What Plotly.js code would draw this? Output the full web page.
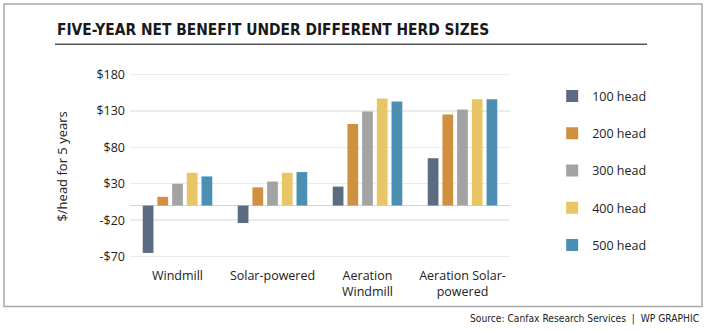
<!DOCTYPE html>
<html>
<head>
<meta charset="utf-8">
<script src="https://cdn.plot.ly/plotly-3.0.1.min.js"></script>
<style>html,body{margin:0;padding:0;background:#fff;}#chart{width:707px;height:331px;}</style>
</head>
<body>
<div id="chart"></div>
<script>
const categories = ["Windmill", "Solar-powered", "Aeration<br>Windmill", "Aeration Solar-<br>powered"];
const seriesNames = ["100 head", "200 head", "300 head", "400 head", "500 head"];
const head100 = [-65, -24, 26, 65];
const head200 = [12, 25, 112, 125];
const head300 = [30, 33, 129, 132];
const head400 = [45, 45, 147, 146];
const head500 = [40, 46, 143, 146];
const yTickVals = [-70, -20, 30, 80, 130, 180];
const yTickText = ["-$70", "-$20", "$30", "$80", "$130", "$180"];
const colors = ["#5a6b82", "#d18f40", "#a3a3a3", "#e8c565", "#4b90b3"];

const allSeries = [head100, head200, head300, head400, head500];
const FONT = "Open Sans, sans-serif";
const COND = "DejaVu Sans Condensed, sans-serif";
const traces = allSeries.map((vals, i) => ({
  type: "bar",
  name: seriesNames[i],
  x: categories,
  y: vals,
  marker: {color: colors[i]},
  legendgroup: "g" + i,
  hoverinfo: "skip"
}));

const layout = {
  width: 707, height: 331,
  margin: {l: 130, r: 197, t: 73.2, b: 72.5},
  paper_bgcolor: "#fff", plot_bgcolor: "#fff",
  barmode: "group",
  bargap: 0.226,
  bargroupgap: 0.27,
  font: {family: FONT, color: "#222", size: 12},
  showlegend: true,
  legend: {
    x: 1.111, xanchor: "left", y: 0.955, yanchor: "top",
    traceorder: "grouped", tracegroupgap: 18, maxheight: 400,
    font: {family: FONT, size: 12.5, color: "#222"},
    bgcolor: "rgba(0,0,0,0)"
  },
  xaxis: {
    showgrid: false, zeroline: false, showline: false,
    ticks: "", ticklabelstandoff: 8,
    tickfont: {family: FONT, size: 12.5, color: "#222"},
    fixedrange: true
  },
  yaxis: {
    range: [-72, 182],
    tickvals: yTickVals, ticktext: yTickText,
    showgrid: true, gridcolor: "#ebebeb", gridwidth: 1.5,
    zeroline: true, zerolinecolor: "#d4d4d4", zerolinewidth: 1.5,
    showline: false, ticks: "", ticklabelstandoff: 4,
    tickfont: {family: FONT, size: 12.5, color: "#222"},
    fixedrange: true
  },
  shapes: [
    {type: "rect", xref: "paper", yref: "paper", x0: -0.3316, x1: 1.5053, y0: -0.2617, y1: 1.3734,
     line: {color: "#a8a8a8", width: 1.5}, fillcolor: "rgba(0,0,0,0)"},
    {type: "line", xref: "paper", yref: "paper", x0: -0.1974, x1: 1.3605, y0: 1.1549, y1: 1.1549,
     line: {color: "#555", width: 1.5}}
  ],
  annotations: [
    {text: "FIVE-YEAR NET BENEFIT UNDER DIFFERENT HERD SIZES", xref: "paper", yref: "paper",
     x: -0.1974, y: 1.2331, xanchor: "left", yanchor: "middle", showarrow: false,
     font: {family: COND, size: 15.4, weight: "bold", color: "#1a1a1a"}},
    {text: "$/head for 5 years", xref: "paper", yref: "paper", x: -0.179, y: 0.494,
     xanchor: "center", yanchor: "middle", textangle: -90, showarrow: false,
     font: {family: FONT, size: 13, color: "#222"}},
    {text: "Source: Canfax Research Services  |  WP GRAPHIC", xref: "paper", yref: "paper",
     x: 1.5026, y: -0.3319, xanchor: "right", yanchor: "middle", showarrow: false,
     font: {family: COND, size: 10.2, color: "#222"}}
  ]
};

Plotly.newPlot("chart", traces, layout, {displayModeBar: false, staticPlot: true});
</script>
</body>
</html>
